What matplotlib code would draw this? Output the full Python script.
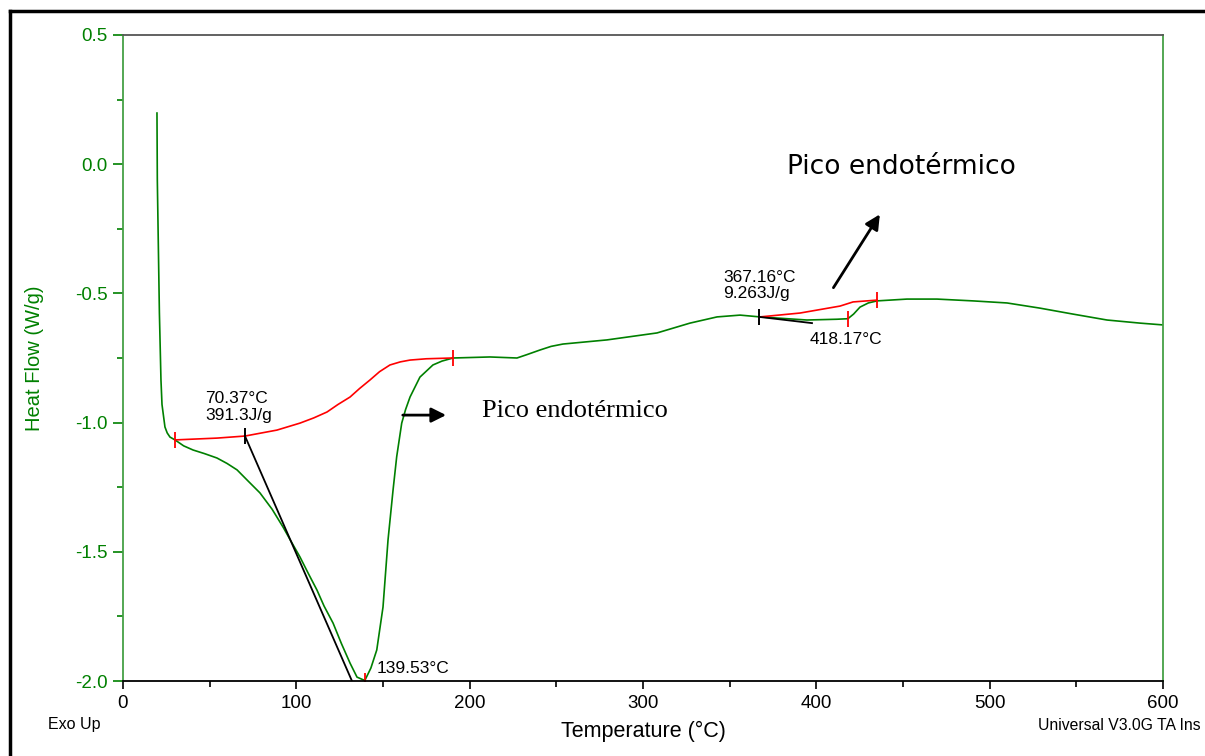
import numpy as np
import matplotlib
matplotlib.use('Agg')
import matplotlib.pyplot as plt
from matplotlib.ticker import MultipleLocator
from matplotlib.lines import Line2D

# DSC heat flow curve
temp = [19.6, 19.8, 20.4, 21.0, 21.9, 22.5, 24.2, 25.5, 27.1, 30.0, 35.0, 40.4,
        47.0, 54.2, 60.0, 65.8, 72.0, 79.0, 86.0, 92.3, 97.0, 102.1, 107.0,
        111.9, 116.0, 121.2, 126.0, 131.0, 135.0, 139.5, 140.6, 143.0, 146.4,
        150.0, 152.9, 155.8, 157.9, 160.8, 163.0, 165.6, 171.3, 178.8, 184.0,
        190.4, 211.7, 227.3, 233.0, 240.6, 247.0, 253.8, 279.2, 308.1, 327.1,
        342.7, 356.0, 367.5, 394.6, 411.9, 418.2, 421.5, 425.2, 430.0, 435.0,
        452.3, 469.6, 490.4, 510.0, 529.0, 548.0, 567.7, 586.7, 600.0]
heat = [0.198, -0.061, -0.320, -0.576, -0.835, -0.930, -1.017, -1.040, -1.056,
        -1.067, -1.090, -1.106, -1.120, -1.137, -1.158, -1.183, -1.225, -1.272,
        -1.335, -1.404, -1.460, -1.520, -1.585, -1.648, -1.710, -1.776, -1.855,
        -1.931, -1.985, -1.998, -1.983, -1.950, -1.880, -1.714, -1.454, -1.261,
        -1.132, -1.002, -0.950, -0.901, -0.824, -0.777, -0.762, -0.750, -0.746,
        -0.750, -0.737, -0.719, -0.705, -0.696, -0.680, -0.653, -0.615, -0.591,
        -0.584, -0.591, -0.603, -0.600, -0.598, -0.580, -0.553, -0.537, -0.529,
        -0.522, -0.522, -0.529, -0.537, -0.557, -0.580, -0.603, -0.615, -0.622]

# integration baselines
base1_t = [30.0, 54.2, 70.4, 88.8, 102.1, 110.0, 117.7, 124.0, 131.0, 136.5,
           142.5, 148.0, 154.0, 160.0, 165.6, 175.0, 190.2]
base1_h = [-1.067, -1.060, -1.052, -1.029, -1.002, -0.982, -0.959, -0.930, -0.901,
           -0.868, -0.835, -0.803, -0.777, -0.765, -0.758, -0.753, -0.750]
base2_t = [367.5, 390.6, 413.7, 421.2, 435.0]
base2_h = [-0.591, -0.576, -0.549, -0.533, -0.526]

# limit / peak markers
red_marks_t = [30.0, 190.2, 139.5, 418.17, 435.0]
red_marks_h = [-1.067, -0.750, -2.0, -0.598, -0.526]

# tangent (label leader) lines
lead1_t = [70.37, 132.1]
lead1_h = [-1.052, -2.0]
lead2_t = [367.16, 397.5]
lead2_h = [-0.591, -0.615]

GREEN = '#008000'
SPINE_GREEN = '#45a045'
sans = 'Liberation Sans'

fig = plt.figure(figsize=(12.05, 7.56), dpi=100)
ax = fig.add_axes([123/1205, 1-681/756, 1040/1205, 646/756])

ax.plot(temp, heat, color=GREEN, lw=1.2)
ax.plot(base1_t, base1_h, color='red', lw=1.2)
ax.plot(base2_t, base2_h, color='red', lw=1.2)
ax.plot(lead1_t, lead1_h, color='black', lw=1.3)
ax.plot(lead2_t, lead2_h, color='black', lw=1.3)
ax.plot(red_marks_t, red_marks_h, ls='none', marker='|', ms=11, mew=1.3, color='red')
ax.plot([lead1_t[0], lead2_t[0]], [lead1_h[0], lead2_h[0]], ls='none', marker='|',
        ms=11, mew=1.4, color='black')

ax.set_xlim(0, 600)
ax.set_ylim(-2.0, 0.5)
ax.xaxis.set_major_locator(MultipleLocator(100))
ax.xaxis.set_minor_locator(MultipleLocator(50))
ax.yaxis.set_major_locator(MultipleLocator(0.5))
ax.yaxis.set_minor_locator(MultipleLocator(0.25))
ax.yaxis.set_major_formatter(matplotlib.ticker.FormatStrFormatter('%.1f'))

ax.spines['left'].set_color(SPINE_GREEN)
ax.spines['right'].set_color(SPINE_GREEN)
ax.spines['top'].set_color('#555555')
ax.spines['bottom'].set_color('black')
for s in ax.spines.values():
    s.set_linewidth(1.3)

ax.tick_params(axis='y', which='major', direction='out', length=7, width=1.2,
               color=GREEN, labelcolor=GREEN, labelsize=13.5, pad=4)
ax.tick_params(axis='y', which='minor', direction='out', length=4, width=1.2, color=GREEN)
ax.tick_params(axis='x', which='major', direction='out', length=6, width=1.2,
               color='black', labelsize=13.5, pad=4)
ax.tick_params(axis='x', which='minor', direction='out', length=4, width=1.2, color='black')
for lab in ax.get_xticklabels() + ax.get_yticklabels():
    lab.set_family(sans)

# annotations
ax.text(47.3, -1.000, '70.37°C\n391.3J/g', fontsize=12.5, family=sans,
        va='bottom', ha='left', linespacing=1.15)
ax.text(146.5, -1.950, '139.53°C', fontsize=12.5, family=sans, va='center', ha='left')
ax.text(346.2, -0.531, '367.16°C\n9.263J/g', fontsize=12.5, family=sans,
        va='bottom', ha='left', linespacing=1.15)
ax.text(396.3, -0.680, '418.17°C', fontsize=12.5, family=sans, va='center', ha='left')

ax.annotate('', xy=(188.0, -0.971), xytext=(159.8, -0.971),
            arrowprops=dict(arrowstyle='-|>', color='black', lw=2, mutation_scale=22))
ax.text(207.1, -0.955, 'Pico endotérmico', fontsize=19, family='Liberation Serif',
        va='center', ha='left')
ax.annotate('', xy=(437.5, -0.185), xytext=(409.0, -0.487),
            arrowprops=dict(arrowstyle='-|>', color='black', lw=2, mutation_scale=22))
ax.text(383.1, -0.011, 'Pico endotérmico', fontsize=19, family='DejaVu Sans',
        va='center', ha='left')

# axis titles and instrument notes
fig.text(35/1205, 1-358/756, 'Heat Flow (W/g)', rotation=90, color=GREEN,
         fontsize=14.5, family=sans, ha='center', va='center')
fig.text(643/1205, 1-731/756, 'Temperature (°C)', fontsize=15.5, family=sans,
         ha='center', va='center')
fig.text(48/1205, 1-725/756, 'Exo Up', fontsize=11.5, family=sans, ha='left', va='center')
fig.text(1038/1205, 1-725/756, 'Universal V3.0G TA Ins', fontsize=11.3,
         family=sans, ha='left', va='center')

# outer frame
fig.add_artist(Line2D([9.5/1205, 9.5/1205], [0, 1-10.5/756], color='black', lw=2.5,
                      transform=fig.transFigure))
fig.add_artist(Line2D([9.5/1205, 1], [1-10.5/756, 1-10.5/756], color='black', lw=2.5,
                      transform=fig.transFigure))

fig.savefig('out.png', dpi=100, facecolor='white')
